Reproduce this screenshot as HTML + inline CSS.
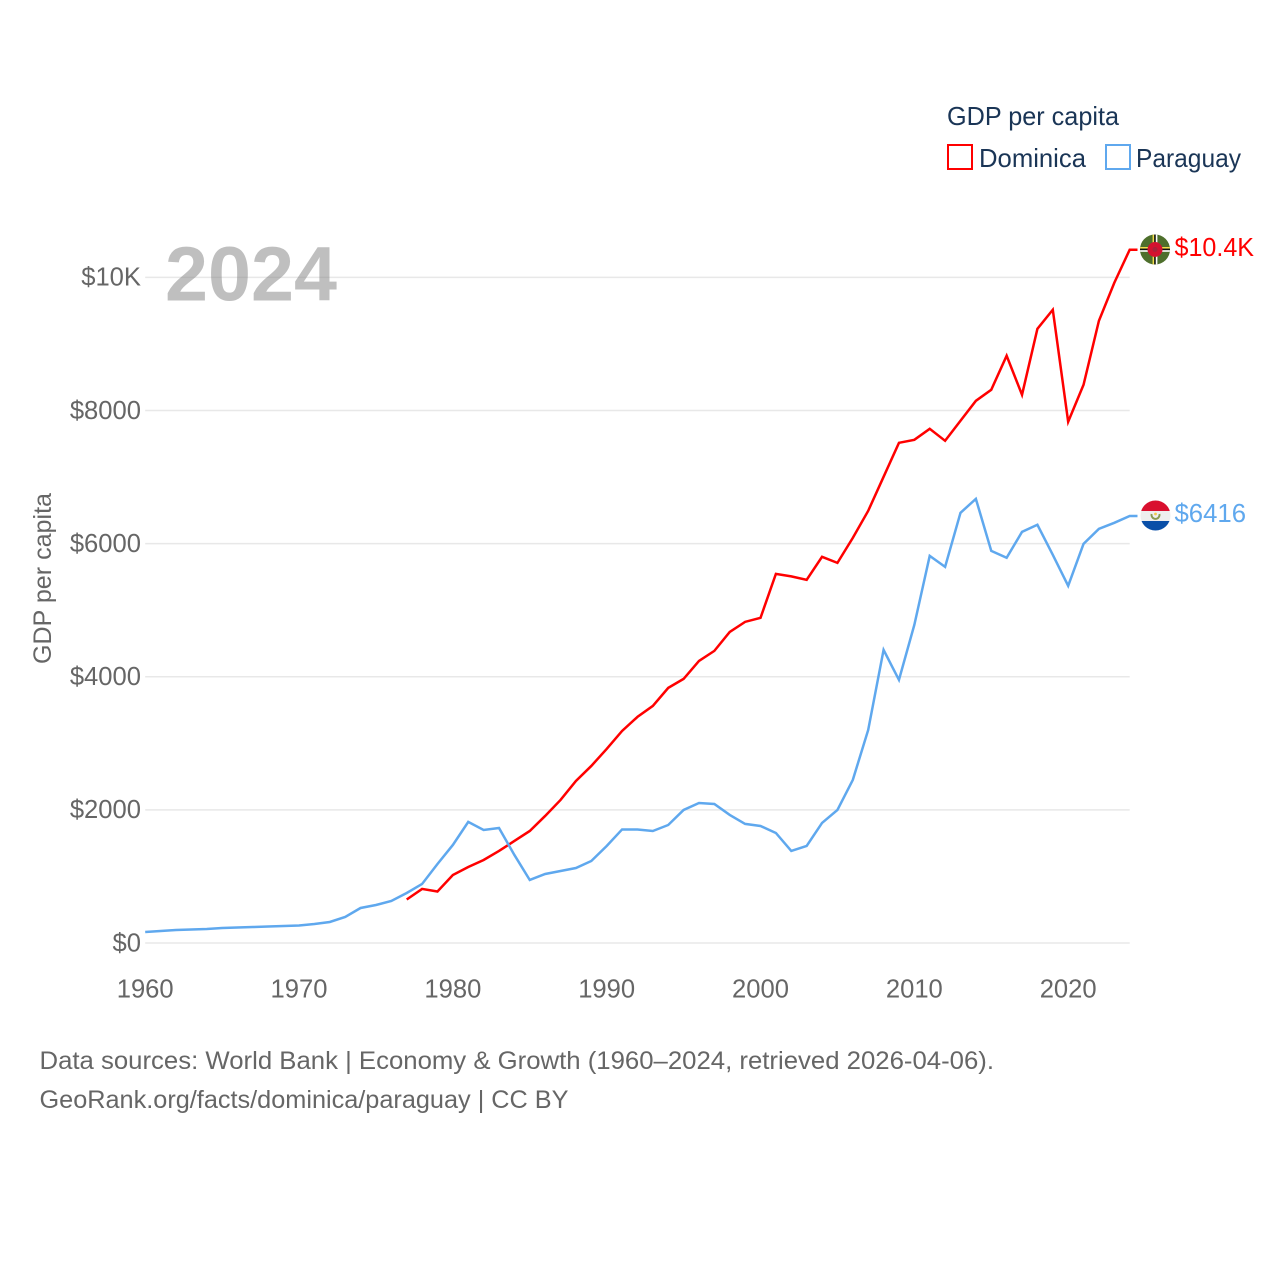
<!DOCTYPE html>
<html lang="en">
<head>
<meta charset="utf-8">
<title>GDP per capita: Dominica and Paraguay</title>
<style>
  html, body { margin: 0; padding: 0; background: #fff; }
  svg { display: block; font-family: "Liberation Sans", sans-serif; }
</style>
</head>
<body>
<svg id="chart" xmlns="http://www.w3.org/2000/svg" width="1280" height="1280" viewBox="0 0 1280 1280">
  <defs>
    <clipPath id="clip-dm"><circle cx="1155" cy="249.5" r="15"/></clipPath>
    <clipPath id="clip-py"><circle cx="1155.5" cy="515.5" r="15"/></clipPath>
  </defs>
  <rect width="1280" height="1280" fill="#fff"/>

  <g id="grid"></g>
  <g id="y-ticks"></g>
  <g id="x-ticks"></g>

  <text x="165" y="300.5" font-size="77" font-weight="bold" fill="#7f7f7f" fill-opacity="0.5" textLength="172" lengthAdjust="spacingAndGlyphs">2024</text>

  <text transform="translate(51 664) rotate(-90)" font-size="25" fill="#666" textLength="171" lengthAdjust="spacingAndGlyphs">GDP per capita</text>

  <g id="series"></g>

  <g>
    <text x="947" y="125" font-size="26" fill="#1a3556" textLength="172" lengthAdjust="spacingAndGlyphs">GDP per capita</text>
    <g>
      <rect x="948" y="145" width="24" height="24" fill="#fff" stroke="#ff0000" stroke-width="2"/>
      <text x="979" y="167" font-size="26" fill="#1a3556" textLength="107" lengthAdjust="spacingAndGlyphs">Dominica</text>
    </g>
    <g>
      <rect x="1106" y="145" width="24" height="24" fill="#fff" stroke="#5fa8ee" stroke-width="2"/>
      <text x="1136" y="167" font-size="26" fill="#1a3556" textLength="105" lengthAdjust="spacingAndGlyphs">Paraguay</text>
    </g>
  </g>

  <g clip-path="url(#clip-dm)">
    <rect x="1139" y="233" width="32" height="33" fill="#4e6f2c"/>
    <rect x="1152.6" y="233" width="1.6" height="33" fill="#f2dc4a"/>
    <rect x="1154.2" y="233" width="1.6" height="33" fill="#111"/>
    <rect x="1155.8" y="233" width="1.6" height="33" fill="#fff"/>
    <rect x="1139" y="247" width="32" height="1.6" fill="#f2dc4a"/>
    <rect x="1139" y="248.6" width="32" height="1.6" fill="#111"/>
    <rect x="1139" y="250.2" width="32" height="1.6" fill="#fff"/>
    <circle cx="1155" cy="249.5" r="7.5" fill="#d3122f"/>
    <circle cx="1155" cy="249.5" r="2.5" fill="#a8223a"/>
  </g>
  <g clip-path="url(#clip-py)">
    <rect x="1139" y="499" width="34" height="12" fill="#d9102f"/>
    <rect x="1139" y="511" width="34" height="10" fill="#eeeeee"/>
    <rect x="1139" y="521" width="34" height="11" fill="#0a4fa8"/>
    <path d="M1151.6 514 A4 4 0 1 0 1159.4 514" fill="none" stroke="#8a9a50" stroke-width="1.9"/>
    <circle cx="1155.5" cy="514" r="1.4" fill="#f2c94c"/>
  </g>

  <text x="1174.5" y="256" font-size="26" fill="#ff0000" textLength="79.5" lengthAdjust="spacingAndGlyphs">$10.4K</text>
  <text x="1174.5" y="522" font-size="26" fill="#5fa8ee" textLength="71.5" lengthAdjust="spacingAndGlyphs">$6416</text>

  <text x="39.5" y="1069" font-size="25" fill="#666" textLength="954.5" lengthAdjust="spacingAndGlyphs">Data sources: World Bank | Economy &amp; Growth (1960–2024, retrieved 2026-04-06).</text>
  <text x="39.5" y="1108" font-size="25" fill="#666" textLength="529" lengthAdjust="spacingAndGlyphs">GeoRank.org/facts/dominica/paraguay | CC BY</text>
</svg>

<script>
const yTickValues = [0, 2000, 4000, 6000, 8000, 10000];
const yTickLabels = ["$0", "$2000", "$4000", "$6000", "$8000", "$10K"];
const xTickYears = [1960, 1970, 1980, 1990, 2000, 2010, 2020];
const xTickLabels = ["1960", "1970", "1980", "1990", "2000", "2010", "2020"];

const paraguayStartYear = 1960;
const paraguayValues = [
  165, 180, 195, 203, 210, 225, 233, 240, 248, 255,
  263, 286, 316, 391, 526, 571, 631, 751, 887, 1187,
  1473, 1819, 1698, 1728, 1323, 947, 1037, 1082, 1127, 1232,
  1458, 1706, 1706, 1683, 1773, 1999, 2104, 2089, 1924, 1789,
  1758, 1653, 1383, 1458, 1804, 1999, 2450, 3201, 4404, 3953,
  4780, 5817, 5651, 6463, 6673, 5892, 5787, 6177, 6283, 5832,
  5366, 5997, 6222, 6313, 6416
];

const dominicaStartYear = 1977;
const dominicaValues = [
  654, 812, 774, 1022, 1142, 1247, 1383, 1533, 1683, 1909,
  2149, 2435, 2660, 2916, 3186, 3397, 3562, 3833, 3968, 4238,
  4389, 4674, 4825, 4885, 5546, 5508, 5456, 5802, 5711, 6087,
  6493, 7004, 7515, 7560, 7725, 7545, 7846, 8146, 8312, 8823,
  8236, 9228, 9514, 7831, 8387, 9349, 9920, 10416
];

const SVG_NS = "http://www.w3.org/2000/svg";
const plot = { left: 145.2, right: 1129.7, baseline: 943, top: 277.4 };
const xDomain = [1960, 2024];
const yDomain = [0, 10000];

function xScale(year) {
  return plot.left + (year - xDomain[0]) / (xDomain[1] - xDomain[0]) * (plot.right - plot.left);
}
function yScale(value) {
  return plot.baseline - (value - yDomain[0]) / (yDomain[1] - yDomain[0]) * (plot.baseline - plot.top);
}
function make(tag, attrs) {
  const el = document.createElementNS(SVG_NS, tag);
  Object.keys(attrs).forEach(function (k) { el.setAttribute(k, attrs[k]); });
  return el;
}

const gridGroup = document.getElementById("grid");
const yTickGroup = document.getElementById("y-ticks");
const xTickGroup = document.getElementById("x-ticks");
const seriesGroup = document.getElementById("series");

yTickValues.forEach(function (value, i) {
  const y = yScale(value);
  const line = make("line", { x1: plot.left, x2: plot.right, y1: y, y2: y, stroke: "#e8e8e8", "stroke-width": 1.5 });
  
  
  gridGroup.appendChild(line);

  const label = make("text", { x: 141, y: y + 8.3, "text-anchor": "end", "font-size": 25.6, fill: "#666" });
  label.textContent = yTickLabels[i];
  
  
  yTickGroup.appendChild(label);
});

xTickYears.forEach(function (year, i) {
  const label = make("text", { x: xScale(year), y: 997.5, "text-anchor": "middle", "font-size": 25.6, fill: "#666" });
  label.textContent = xTickLabels[i];
  
  
  xTickGroup.appendChild(label);
});

function seriesPath(startYear, values) {
  const parts = values.map(function (v, i) {
    return (i === 0 ? "M" : "L") + xScale(startYear + i).toFixed(2) + " " + yScale(v).toFixed(2);
  });
  const last = values[values.length - 1];
  parts.push("L1137.5 " + yScale(last).toFixed(2));
  return parts.join(" ");
}

const dominicaLine = make("path", {
  d: seriesPath(dominicaStartYear, dominicaValues),
  fill: "none", stroke: "#ff0000", "stroke-width": 2.5, "stroke-linejoin": "miter"
});


seriesGroup.appendChild(dominicaLine);

const paraguayLine = make("path", {
  d: seriesPath(paraguayStartYear, paraguayValues),
  fill: "none", stroke: "#5fa8ee", "stroke-width": 2.5, "stroke-linejoin": "miter"
});


seriesGroup.appendChild(paraguayLine);
</script>
</body>
</html>
